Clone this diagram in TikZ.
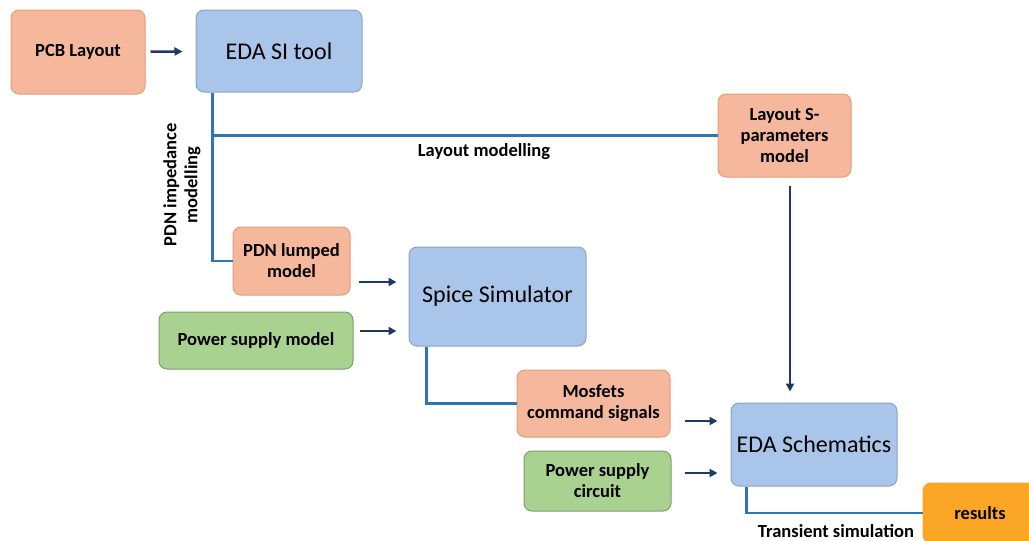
\documentclass[tikz,border=0pt]{standalone}
\usepackage{fontspec}
\setmainfont{Carlito}
\usepackage{tikz}
\usetikzlibrary{arrows.meta}
\definecolor{boxorange}{HTML}{F6B89C}
\definecolor{boxorangeline}{HTML}{E39B78}
\definecolor{boxblue}{HTML}{A9C5E9}
\definecolor{boxblueline}{HTML}{8BA3C4}
\definecolor{boxgreen}{HTML}{A9D190}
\definecolor{boxgreenline}{HTML}{7E9E6B}
\definecolor{resultorange}{HTML}{FCA626}
\definecolor{lineblue}{HTML}{2E75B6}
\definecolor{arrownavy}{HTML}{203864}

\begin{document}
\begin{tikzpicture}[x=1pt,y=-1pt,
        box/.style={draw, rounded corners=8pt, line width=1pt, align=center, inner sep=2pt, text=black, font=\fontsize{18.5}{21}\selectfont\bfseries},
        redbox/.style={box, fill=boxorange, draw=boxorangeline},
        greenbox/.style={box, fill=boxgreen, draw=boxgreenline},
        bluebox/.style={box, fill=boxblue, draw=boxblueline, font=\fontsize{24}{28}\selectfont},
        arr/.style={-{Triangle[length=8pt,width=8pt]}, line width=2.5pt, draw=arrownavy, shorten <=7pt, shorten >=12pt},
        link/.style={line width=2.5pt, draw=lineblue},
        lbl/.style={text=black, font=\fontsize{18.5}{21}\selectfont\bfseries}]
        \useasboundingbox (0,0) rectangle (1029,541);
        % boxes
        \node[redbox, minimum width=134pt, minimum height=84pt] (pcb) at (78,52) {PCB Layout};
        \node[bluebox, minimum width=166pt, minimum height=82pt] (edasi) at (279,51) {EDA SI tool};
        \node[redbox, minimum width=133pt, minimum height=83pt] (layS) at (784.5,135.5) {Layout S-\\parameters\\model};
        \node[redbox, minimum width=117pt, minimum height=68pt] (pdn) at (291.5,261) {PDN lumped\\model};
        \node[bluebox, minimum width=177pt, minimum height=99pt] (spice) at (497.5,296.5) {Spice Simulator};
        \node[greenbox, minimum width=194pt, minimum height=57pt] (psm) at (256,340.5) {Power supply model};
        \node[redbox, minimum width=153pt, minimum height=67pt] (mosfets) at (593.5,403.5) {Mosfets\\command signals};
        \node[greenbox, minimum width=147pt, minimum height=60pt] (psc) at (597.5,481) {Power supply\\circuit};
        \node[bluebox, minimum width=166pt, minimum height=83pt] (edasch) at (814,444.5) {EDA Schematics};
        \node[box, fill=resultorange, draw=resultorange, minimum width=114pt, minimum height=60pt] (results) at (980,513) {results};
        % labels
        \node[lbl] (laymod) at (484,152) {Layout modelling};
        \node[lbl, rotate=90, align=center] (pdnmod) at (182,185) {PDN impedance\\modelling};
        \node[lbl] (trans) at (836,531) {Transient simulation};
        % blue links
        \coordinate (trunk) at ([xshift=17pt]edasi.south west);
        \draw[link] (trunk) |- (pdn.west);
        \draw[link] (trunk |- layS.west) -- (layS.west);
        \coordinate (spout) at ([xshift=18pt]spice.south west);
        \draw[link] (spout) |- (mosfets.west);
        \coordinate (schout) at ([xshift=16pt]edasch.south west);
        \draw[link] (schout) |- (results.west);
        % arrows
        \draw[arr, shorten <=5pt, shorten >=13pt] (pcb) -- (edasi);
        \draw[arr, shorten <=8pt] ([yshift=-21pt]pdn.east) -- ([yshift=-21pt]pdn.east -| spice.west);
        \draw[arr, shorten <=6pt] ([yshift=9.5pt]psm.east) -- ([yshift=9.5pt]psm.east -| spice.west);
        \draw[arr, shorten <=14pt, shorten >=13pt] ([yshift=-17.5pt]mosfets.east) -- ([yshift=-17.5pt]mosfets.east -| edasch.west);
        \draw[arr, shorten <=13pt, shorten >=13pt] ([yshift=8pt]psc.east) -- ([yshift=8pt]psc.east -| edasch.west);
        \draw[arr, shorten <=8pt, shorten >=11pt] ([xshift=5.5pt]layS.south) -- ([xshift=5.5pt]layS.south |- edasch.north);
    \end{tikzpicture}
\end{document}
